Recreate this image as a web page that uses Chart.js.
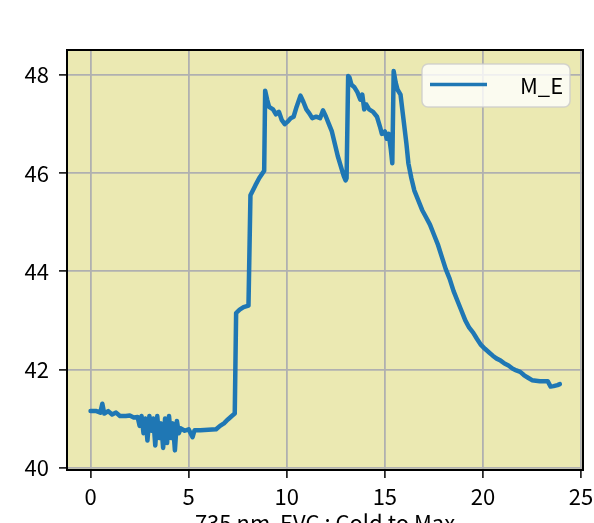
<!DOCTYPE html>
<html><head><meta charset="utf-8">
<script src="https://cdn.jsdelivr.net/npm/chart.js@4"></script>
<style>html,body{margin:0;padding:0;overflow:hidden;background:#fff}#wrap{width:594px;height:550px;position:relative}</style>
</head><body><div id="wrap"><canvas id="c" width="594" height="550"></canvas></div>
<script>
const xValues = [0,0.3,0.5,0.6,0.7,0.9,1.1,1.3,1.5,1.8,2.0,2.2,2.4,2.5,2.6,2.7,2.8,2.9,3.0,3.1,3.2,3.3,3.4,3.5,3.6,3.7,3.8,3.9,4.0,4.1,4.2,4.3,4.4,4.5,4.6,4.8,5.0,5.2,5.3,5.6,6.0,6.4,6.6,6.8,7.0,7.2,7.35,
  7.42,7.6,7.8,8.05,8.15,8.4,8.6,8.85,
  8.9,9.0,9.1,9.3,9.45,9.6,9.75,9.9,10.05,10.2,10.35,10.5,10.7,10.85,11.0,11.15,11.3,11.5,11.7,11.85,12.0,12.15,12.3,12.45,12.6,12.75,12.9,13.0,13.05,
  13.13,13.2,13.3,13.45,13.6,13.75,13.85,13.95,14.05,14.2,14.4,14.6,14.75,14.85,15.0,15.1,15.2,15.3,15.38,
  15.45,15.55,15.65,15.8,15.95,16.1,16.2,16.35,16.5,16.7,16.9,17.1,17.3,17.5,17.7,17.9,18.1,18.3,18.5,18.7,18.9,19.1,19.3,19.5,19.7,19.9,20.1,20.3,20.5,20.7,20.9,21.1,21.3,21.5,21.7,21.9,22.1,22.3,22.5,22.7,22.9,23.1,23.3,23.45,23.6,23.8,23.92];
const yValues = [41.15,41.15,41.12,41.3,41.1,41.15,41.08,41.12,41.05,41.05,41.06,41.02,41.03,40.85,41.05,40.7,41.0,40.55,41.05,40.75,41.0,40.45,41.05,40.6,40.9,40.4,41.0,40.5,41.05,40.6,40.9,40.35,40.95,40.7,40.8,40.75,40.78,40.62,40.76,40.76,40.77,40.78,40.85,40.9,40.98,41.05,41.1,
  43.15,43.22,43.27,43.3,45.55,45.75,45.9,46.05,
  47.68,47.5,47.35,47.3,47.2,47.25,47.08,47.0,47.05,47.12,47.15,47.35,47.58,47.45,47.3,47.22,47.12,47.15,47.12,47.28,47.15,47.0,46.85,46.6,46.35,46.15,45.95,45.85,45.9,
  47.98,47.95,47.8,47.75,47.65,47.5,47.6,47.3,47.4,47.3,47.25,47.15,46.95,46.8,46.85,46.7,46.8,46.5,46.2,
  48.08,47.85,47.7,47.6,47.1,46.6,46.2,45.9,45.65,45.45,45.25,45.1,44.95,44.75,44.55,44.3,44.05,43.85,43.6,43.4,43.2,43.0,42.85,42.75,42.62,42.5,42.42,42.35,42.28,42.22,42.18,42.12,42.08,42.02,41.98,41.95,41.88,41.83,41.78,41.77,41.76,41.76,41.76,41.65,41.66,41.68,41.7];
const xTicks = [0,5,10,15,20,25];
const yTicks = [40,42,44,46,48];
const seriesLabel = 'M_E';
const xTitle = '735 nm  EVC : Cold to Max';

const FONT = "'Noto Sans CJK JP', 'Noto Sans', sans-serif";
const points = xValues.map((x, i) => ({x: x, y: yValues[i]}));

const bgPlugin = {
  id: 'bg',
  beforeDraw(chart) {
    const a = chart.chartArea, ctx = chart.ctx;
    ctx.save(); ctx.fillStyle = 'rgb(235,233,178)';
    ctx.fillRect(a.left, a.top, a.right - a.left, a.bottom - a.top);
    ctx.restore();
  },
  afterDraw(chart) {
    const a = chart.chartArea, ctx = chart.ctx;
    ctx.save();
    ctx.strokeStyle = '#000'; ctx.lineWidth = 2;
    ctx.strokeRect(a.left, a.top, a.right - a.left, a.bottom - a.top);
    // legend
    const lx = 422, ly = 64, lw = 148, lh = 43;
    ctx.beginPath(); ctx.roundRect(lx, ly, lw, lh, 6);
    ctx.fillStyle = 'rgba(255,255,255,0.8)'; ctx.fill();
    ctx.strokeStyle = 'rgba(204,204,204,0.8)'; ctx.lineWidth = 1.5; ctx.stroke();
    const ds = chart.data.datasets[0];
    ctx.beginPath(); ctx.moveTo(430, 84.5); ctx.lineTo(487, 84.5);
    ctx.strokeStyle = ds.borderColor; ctx.lineWidth = 3.5; ctx.stroke();
    ctx.fillStyle = '#000'; ctx.font = '22px ' + FONT;
    ctx.textBaseline = 'middle'; ctx.textAlign = 'left';
    ctx.fillText(ds.label, 520, 86);
    ctx.restore();
  }
};

new Chart(document.getElementById('c'), {
  type: 'line',
  data: { datasets: [{ label: seriesLabel, data: points, borderColor: '#1f77b4', borderWidth: 4.5, pointRadius: 0, tension: 0, fill: false, borderJoinStyle: 'round', borderCapStyle: 'round' }] },
  options: {
    responsive: false, animation: false, devicePixelRatio: 1,
    layout: { padding: { top: 50, right: 11, left: 0, bottom: 0 } },
    plugins: { legend: { display: false }, tooltip: { enabled: false } },
    scales: {
      x: {
        type: 'linear', position: 'bottom', min: -1.2, max: 25.1,
        afterBuildTicks: s => { s.ticks = xTicks.map(v => ({value: v})); },
        afterFit: s => { s.height = 80; s.paddingRight = 0; s.paddingLeft = 0; },
        ticks: { font: { size: 22, family: FONT }, color: '#000', padding: 5, maxRotation: 0, autoSkip: false },
        grid: { color: '#b0b0b0', lineWidth: 1.8, tickColor: '#000', tickLength: 8, tickWidth: 1.5 },
        border: { display: false },
        title: { display: true, text: xTitle, color: '#000', font: { size: 22, family: FONT }, padding: { top: 0, bottom: 14 } }
      },
      y: {
        type: 'linear', min: 39.95, max: 48.51,
        afterBuildTicks: s => { s.ticks = yTicks.map(v => ({value: v})); },
        afterFit: s => { s.width = 67; },
        ticks: { font: { size: 22, family: FONT }, color: '#000', padding: 10 },
        grid: { color: '#b0b0b0', lineWidth: 1.8, tickColor: '#000', tickLength: 8, tickWidth: 1.5 },
        border: { display: false }
      }
    }
  },
  plugins: [bgPlugin]
});
</script></body></html>
